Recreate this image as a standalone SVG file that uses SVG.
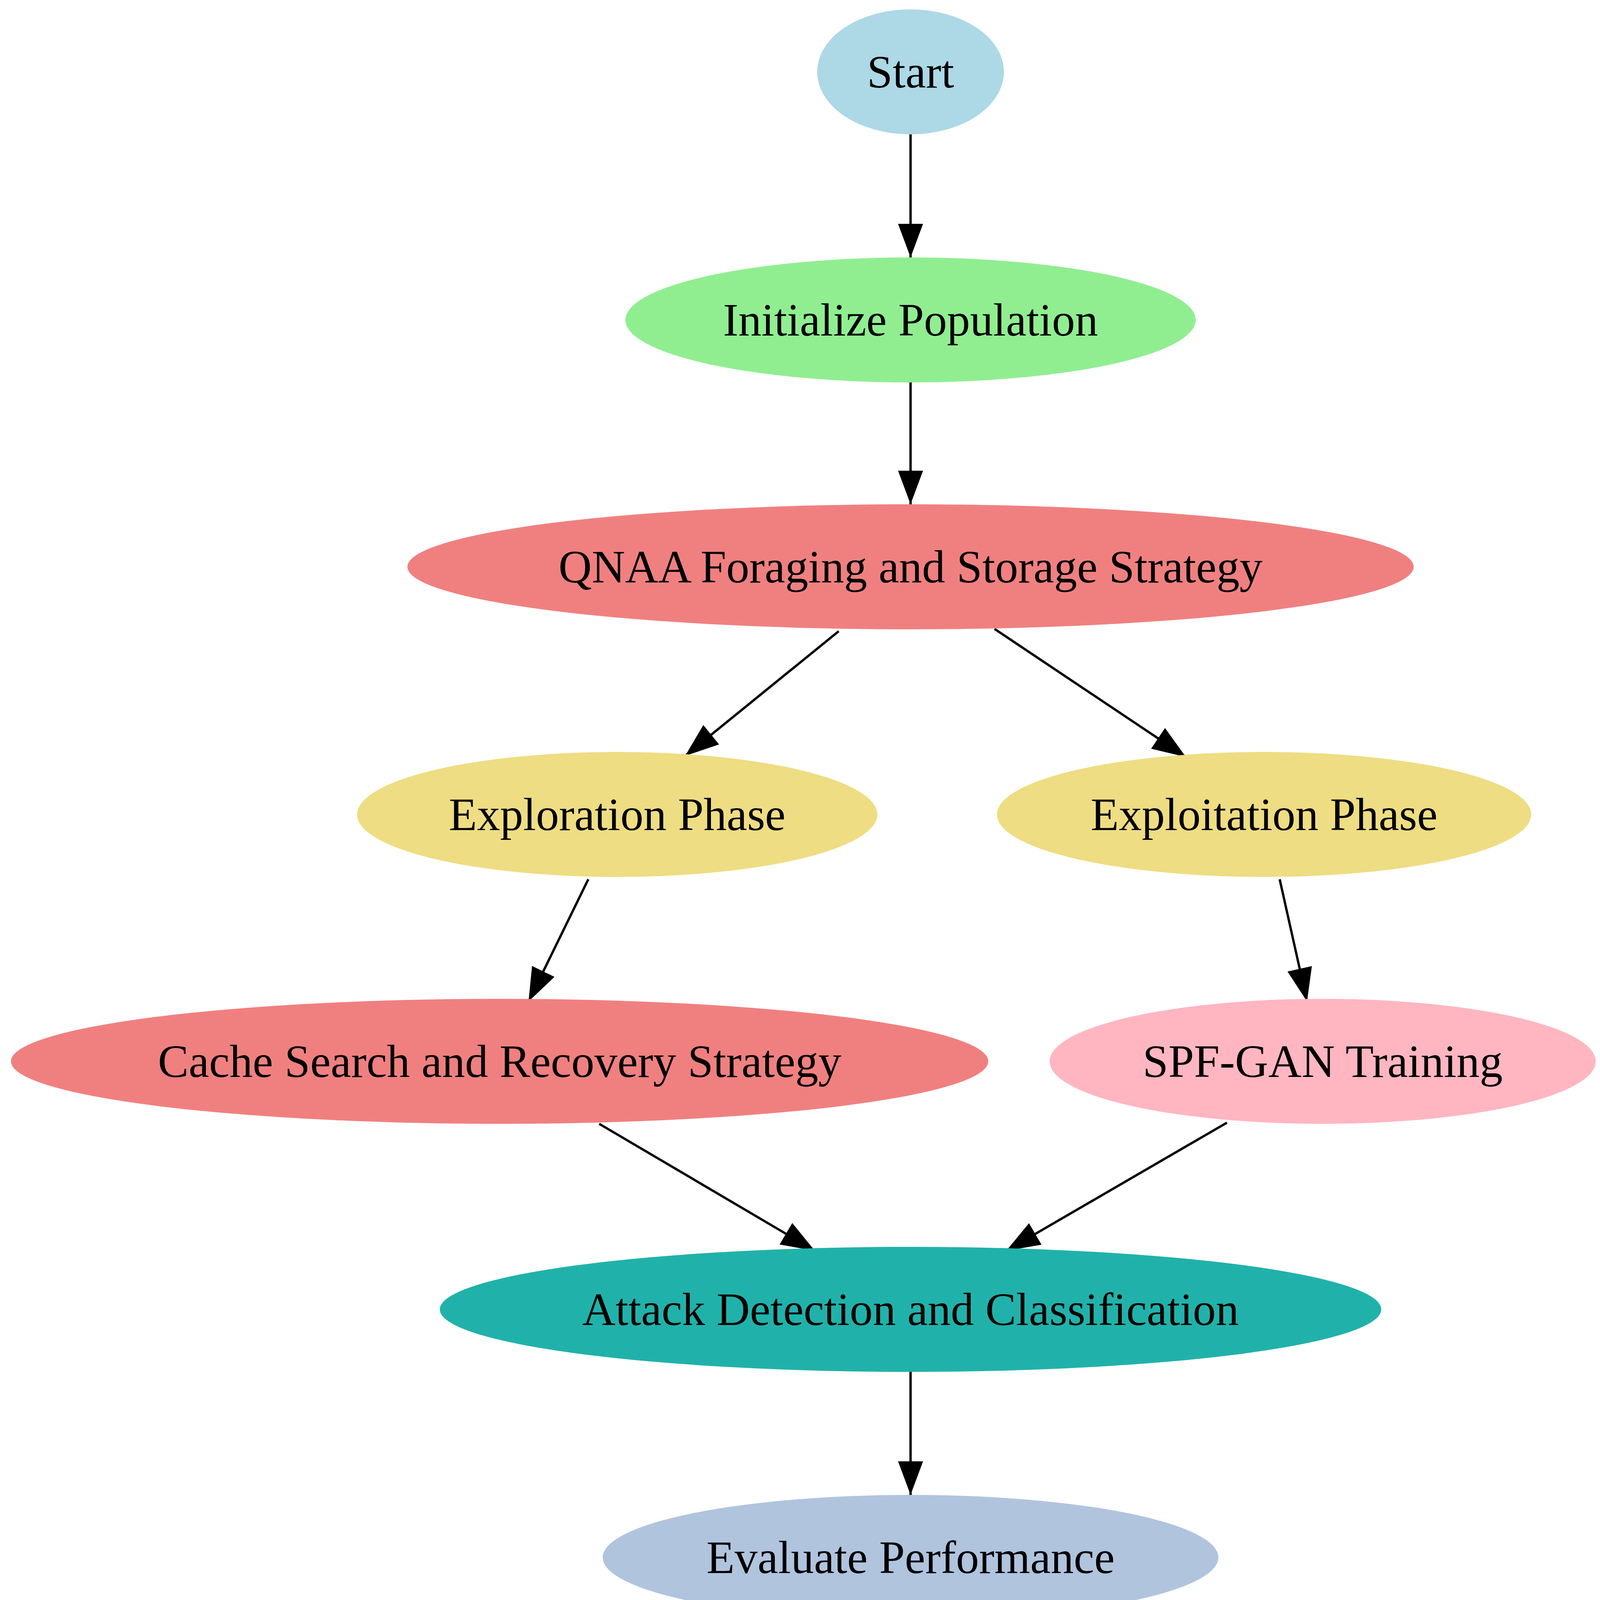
<svg xmlns="http://www.w3.org/2000/svg" width="4141" height="4811" viewBox="0 0 4141 4811">
<style>
text{font-family:"Liberation Serif","Times New Roman",serif;font-size:118px;fill:#000;text-anchor:middle;dominant-baseline:central}
.e{stroke:#000;stroke-width:6;fill:none;marker-end:url(#ah)}
</style>
<defs><marker id="ah" markerUnits="userSpaceOnUse" markerWidth="90" markerHeight="64" refX="86" refY="32" orient="auto"><path d="M0,0 L86,32 L0,64 Z" fill="#000"/></marker></defs>
<rect width="4141" height="4811" fill="#fff"/>
<g id="edges">
<path class="e" d="M2331,344 L2331,659"/>
<path class="e" d="M2331,979 L2331,1291"/>
<path class="e" d="M2147,1616 L1754,1935"/>
<path class="e" d="M2546,1610 L3036,1938"/>
<path class="e" d="M1506,2251 L1353,2564"/>
<path class="e" d="M3276,2251 L3346,2564"/>
<path class="e" d="M1534,2877 L2086,3202"/>
<path class="e" d="M3141,2874 L2576,3202"/>
<path class="e" d="M2331,3512 L2331,3827"/>
<path class="e" d="M2331,4147 L2331,4459"/>
</g>
<g id="start"><ellipse cx="2331" cy="184" rx="239" ry="160" fill="#add8e6"/><text x="2331" y="184">Start</text></g>
<g id="init"><ellipse cx="2331" cy="819" rx="730" ry="160" fill="#90ee90"/><text x="2331" y="819">Initialize Population</text></g>
<g id="qnaa"><ellipse cx="2331" cy="1451" rx="1288" ry="160" fill="#f08080"/><text x="2331" y="1451">QNAA Foraging and Storage Strategy</text></g>
<g id="exploration"><ellipse cx="1580" cy="2085" rx="666" ry="160" fill="#eedd82"/><text x="1580" y="2085">Exploration Phase</text></g>
<g id="exploitation"><ellipse cx="3236" cy="2085" rx="684" ry="160" fill="#eedd82"/><text x="3236" y="2085">Exploitation Phase</text></g>
<g id="cache"><ellipse cx="1279" cy="2717" rx="1251" ry="160" fill="#f08080"/><text x="1279" y="2717">Cache Search and Recovery Strategy</text></g>
<g id="spfgan"><ellipse cx="3386" cy="2717" rx="699" ry="160" fill="#ffb6c1"/><text x="3386" y="2717">SPF-GAN Training</text></g>
<g id="attack"><ellipse cx="2331" cy="3352" rx="1205" ry="160" fill="#20b2aa"/><text x="2331" y="3352">Attack Detection and Classification</text></g>
<g id="evaluate"><ellipse cx="2331" cy="3987" rx="788" ry="160" fill="#b0c4de"/><text x="2331" y="3987">Evaluate Performance</text></g>
<g id="end"><ellipse cx="2331" cy="4619" rx="239" ry="160" fill="#add8e6"/><text x="2331" y="4619">End</text></g>
</svg>
